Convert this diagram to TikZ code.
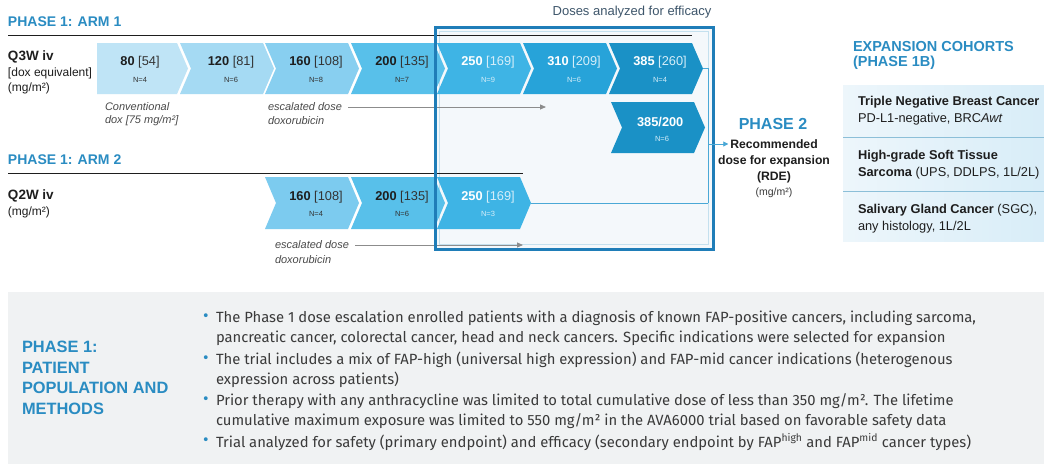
\documentclass[tikz,border=0pt]{standalone}
\usepackage{fontspec}
\setmainfont{Liberation Sans}
\newfontfamily\bodyfont{Fira Sans}
\usetikzlibrary{arrows.meta,calc}

\definecolor{hdblue}{HTML}{2A8CC2}
\definecolor{boxblue}{HTML}{1F7DB8}
\definecolor{boxinner}{HTML}{C4E0EE}
\definecolor{boxfill}{HTML}{F4F8FB}
\definecolor{linkblue}{HTML}{4AA8D6}
\definecolor{txtdark}{HTML}{1E1E1E}
\definecolor{txtmid}{HTML}{3A3A3A}
\definecolor{notegray}{HTML}{4A4A4A}
\definecolor{arrowgray}{HTML}{8C8C8C}
\definecolor{slate}{HTML}{3E566B}
\definecolor{brlight}{HTML}{D6EEF9}
\definecolor{brdark}{HTML}{333333}
\definecolor{cA}{HTML}{BFE4F6}
\definecolor{cB}{HTML}{A5DAF3}
\definecolor{cC}{HTML}{88CFF0}
\definecolor{cD}{HTML}{58C0EA}
\definecolor{cE}{HTML}{3EB4E5}
\definecolor{cF}{HTML}{27A3D9}
\definecolor{cG}{HTML}{1A91C6}
\definecolor{aC}{HTML}{7CCBEF}
\definecolor{cohortL}{HTML}{EDF6FB}
\definecolor{cohortR}{HTML}{D8EDF8}
\definecolor{cohortline}{HTML}{8CBFD8}
\definecolor{panelgray}{HTML}{F0F2F3}

\newcommand\fsz[1]{\fontsize{#1}{#1}\selectfont}

% dose step with a notched left side
% #1 name, #2 left x, #3 top y, #4 bottom y, #5 fill, #6 dose, #7 bracket dose, #8 N, #9 text style
\newcommand\dosechev[9]{%
  \pgfmathsetmacro\cm{(#3+#4)/2}
  \fill[#5] (#2,#3) -- (#2+83,#3) -- (#2+94,\cm) -- (#2+83,#4) -- (#2,#4) -- (#2+11,\cm) -- cycle;
  \coordinate (#1-tip) at (#2+94,\cm);
  \node[dose,#9] (#1) at (#2+51,\cm-6) {\textbf{#6} {\color{\brc}#7}};
  \node[ncount,#9] (#1-n) at (#2+51,\cm+11) {\color{\brc}N=#8};
}

\tikzset{
  hdr/.style={font=\fsz{14}\bfseries, text=hdblue, anchor=west},
  lbl/.style={font=\fsz{12}, text=txtdark, anchor=west},
  lblb/.style={font=\fsz{13.5}\bfseries, text=txtdark, anchor=west},
  note/.style={font=\fsz{11}\itshape, text=notegray, anchor=west},
  dose/.style={font=\fsz{12.8}, anchor=center},
  ncount/.style={font=\fsz{7.5}, anchor=center},
  lighttxt/.style={text=txtdark, execute at begin node={\def\brc{brdark}}},
  darktxt/.style={text=white, execute at begin node={\def\brc{brlight}}},
  grayarrow/.style={draw=arrowgray, line width=0.8pt, -{Triangle[length=6pt,width=5pt]}},
  link/.style={draw=linkblue, line width=0.9pt},
  cohort/.style={font=\fsz{12.8}, text=txtdark, anchor=west},
  bullet/.style={font=\bodyfont\fsz{14.8}, text=txtmid, anchor=west},
  dot/.style={font=\bodyfont\fsz{17}, text=hdblue, anchor=west},
  ptitle/.style={font=\fsz{16.4}\bfseries, text=hdblue, anchor=west},
}

\begin{document}
\begin{tikzpicture}[x=1pt,y=-1pt, every node/.style={inner sep=0pt, outer sep=0pt}]
\useasboundingbox (0,0) rectangle (1044,464);
\fill[white] (0,0) rectangle (1044,464);

% efficacy window (fill behind the steps)
\fill[boxfill] (435,27) rectangle (713,249);
\draw[boxinner, line width=0.7pt] (439.5,31.5) rectangle (708.5,244.5);
\node[font=\fsz{13}, text=slate] (effic) at (632,12) {Doses analyzed for efficacy};

% ---------- Arm 1 ----------
\node[hdr] (arm1) at (8,22) {PHASE 1: ARM 1};
\draw[txtdark, line width=0.8pt] (8,35.5) -- (692,35.5);
\node[lblb] (q3w) at (8,57) {Q3W iv};
\node[lbl] (q3wa) at (8,73) {[dox equivalent]};
\node[lbl] (q3wb) at (8,88) {(mg/m²)};

% first step has a flat left side
\fill[cA] (97,43) -- (177,43) -- (188,68.5) -- (177,94) -- (97,94) -- cycle;
\node[dose,lighttxt] (d80) at (140,62.5) {\textbf{80} {\color{\brc}[54]}};
\node[ncount,lighttxt] (d80-n) at (140,79.5) {\color{\brc}N=4};

\dosechev{d120}{180}{43}{94}{cB}{120}{[81]}{6}{lighttxt}
\dosechev{d160}{265}{43}{94}{cC}{160}{[108]}{8}{lighttxt}
\dosechev{d200}{351}{43}{94}{cD}{200}{[135]}{7}{lighttxt}
\dosechev{d250}{437}{43}{94}{cE}{250}{[169]}{9}{darktxt}
\dosechev{d310}{523}{43}{94}{cF}{310}{[209]}{6}{darktxt}
\dosechev{d385}{609}{43}{94}{cG}{385}{[260]}{4}{darktxt}
\dosechev{d385b}{611}{102}{153}{cG}{385/200}{}{6}{darktxt}

\node[note] (conv1) at (105,107) {Conventional};
\node[note] (conv2) at (105,121) {dox [75 mg/m²]};
\node[note] (esc1) at (268,107) {escalated dose};
\node[note] (esc1b) at (268,121) {doxorubicin};
\coordinate (esc1-end) at (546,107);
\draw[grayarrow] ([xshift=6pt]esc1.east) -- (esc1-end);

% ---------- Arm 2 ----------
\node[hdr] (arm2) at (8,160) {PHASE 1: ARM 2};
\draw[txtdark, line width=0.8pt] (8,173.5) -- (523,173.5);
\node[lblb] (q2w) at (8,196) {Q2W iv};
\node[lbl] (q2wb) at (8,212) {(mg/m²)};

\dosechev{e160}{265}{177}{229}{aC}{160}{[108]}{4}{lighttxt}
\dosechev{e200}{351}{177}{229}{cD}{200}{[135]}{6}{lighttxt}
\dosechev{e250}{437}{177}{229}{cE}{250}{[169]}{3}{darktxt}

\node[note] (esc2) at (275,245) {escalated dose};
\node[note] (esc2b) at (275,260) {doxorubicin};
\coordinate (esc2-end) at (523,245);
\draw[grayarrow] ([xshift=6pt]esc2.east) -- (esc2-end);

% efficacy window border on top
\draw[boxblue, line width=3pt] (435,27) rectangle (713,249);

% ---------- Phase 2 ----------
\node[font=\fsz{16}\bfseries, text=hdblue] (p2) at (773,124) {PHASE 2};
\node[font=\fsz{12.2}\bfseries, text=txtdark] (rde1) at (774,144) {Recommended};
\node[font=\fsz{12.2}\bfseries, text=txtdark] (rde2) at (774,161) {dose for expansion};
\node[font=\fsz{12.2}\bfseries, text=txtdark] (rde3) at (774,177) {(RDE)};
\node[font=\fsz{10.5}, text=txtmid] (rde4) at (774,193) {(mg/m²)};

\coordinate (join) at (708,144);
\draw[link] (d385-tip) -| (708,203);
\draw[link] (e250-tip) -- (708,203);
\draw[draw=linkblue, line width=0.9pt, -{Triangle[length=5pt,width=5pt]}] (join) -- ([xshift=-2pt]rde1.west);

% ---------- Expansion cohorts ----------
\node[hdr, font=\fsz{14.5}\bfseries] (exp1) at (853,47) {EXPANSION COHORTS};
\node[hdr, font=\fsz{14.5}\bfseries] (exp2) at (853,63) {(PHASE 1B)};
\shade[left color=cohortL, right color=cohortR] (843,85) rectangle (1044,241);
\draw[cohortline, line width=0.8pt] (843,137) -- (1044,137);
\draw[cohortline, line width=0.8pt] (843,191) -- (1044,191);
\node[cohort] (tn1) at (858,102) {\textbf{Triple Negative Breast Cancer}};
\node[cohort] (tn2) at (858,119) {PD-L1-negative, BRC\textit{Awt}};
\node[cohort] (st1) at (858,156) {\textbf{High-grade Soft Tissue}};
\node[cohort] (st2) at (858,173) {\textbf{Sarcoma} (UPS, DDLPS, 1L/2L)};
\node[cohort] (sg1) at (858,210) {\textbf{Salivary Gland Cancer} (SGC),};
\node[cohort] (sg2) at (858,227) {any histology, 1L/2L};

% ---------- Patient population panel ----------
\fill[panelgray] (8,292) rectangle (1044,464);
\node[ptitle] (pt1) at (22,347) {PHASE 1:};
\node[ptitle] (pt2) at (22,367.5) {PATIENT};
\node[ptitle] (pt3) at (22,388) {POPULATION AND};
\node[ptitle] (pt4) at (22,408.5) {METHODS};

\node[dot] (b1) at (203,318) {•};
\node[bullet] (l1) at (216,318) {The Phase 1 dose escalation enrolled patients with a diagnosis of known FAP-positive cancers, including sarcoma,};
\node[bullet] (l2) at (216,338.5) {pancreatic cancer, colorectal cancer, head and neck cancers. Specific indications were selected for expansion};
\node[dot] (b2) at (203,360) {•};
\node[bullet] (l3) at (216,360) {The trial includes a mix of FAP-high (universal high expression) and FAP-mid cancer indications (heterogenous};
\node[bullet] (l4) at (216,379.5) {expression across patients)};
\node[dot] (b3) at (203,401) {•};
\node[bullet] (l5) at (216,401) {Prior therapy with any anthracycline was limited to total cumulative dose of less than 350 mg/m². The lifetime};
\node[bullet] (l6) at (216,421) {cumulative maximum exposure was limited to 550 mg/m² in the AVA6000 trial based on favorable safety data};
\node[dot] (b4) at (203,442) {•};
\node[bullet] (l7) at (216,442) {Trial analyzed for safety (primary endpoint) and efficacy (secondary endpoint by FAP\textsuperscript{high} and FAP\textsuperscript{mid} cancer types)};
\end{tikzpicture}
\end{document}
